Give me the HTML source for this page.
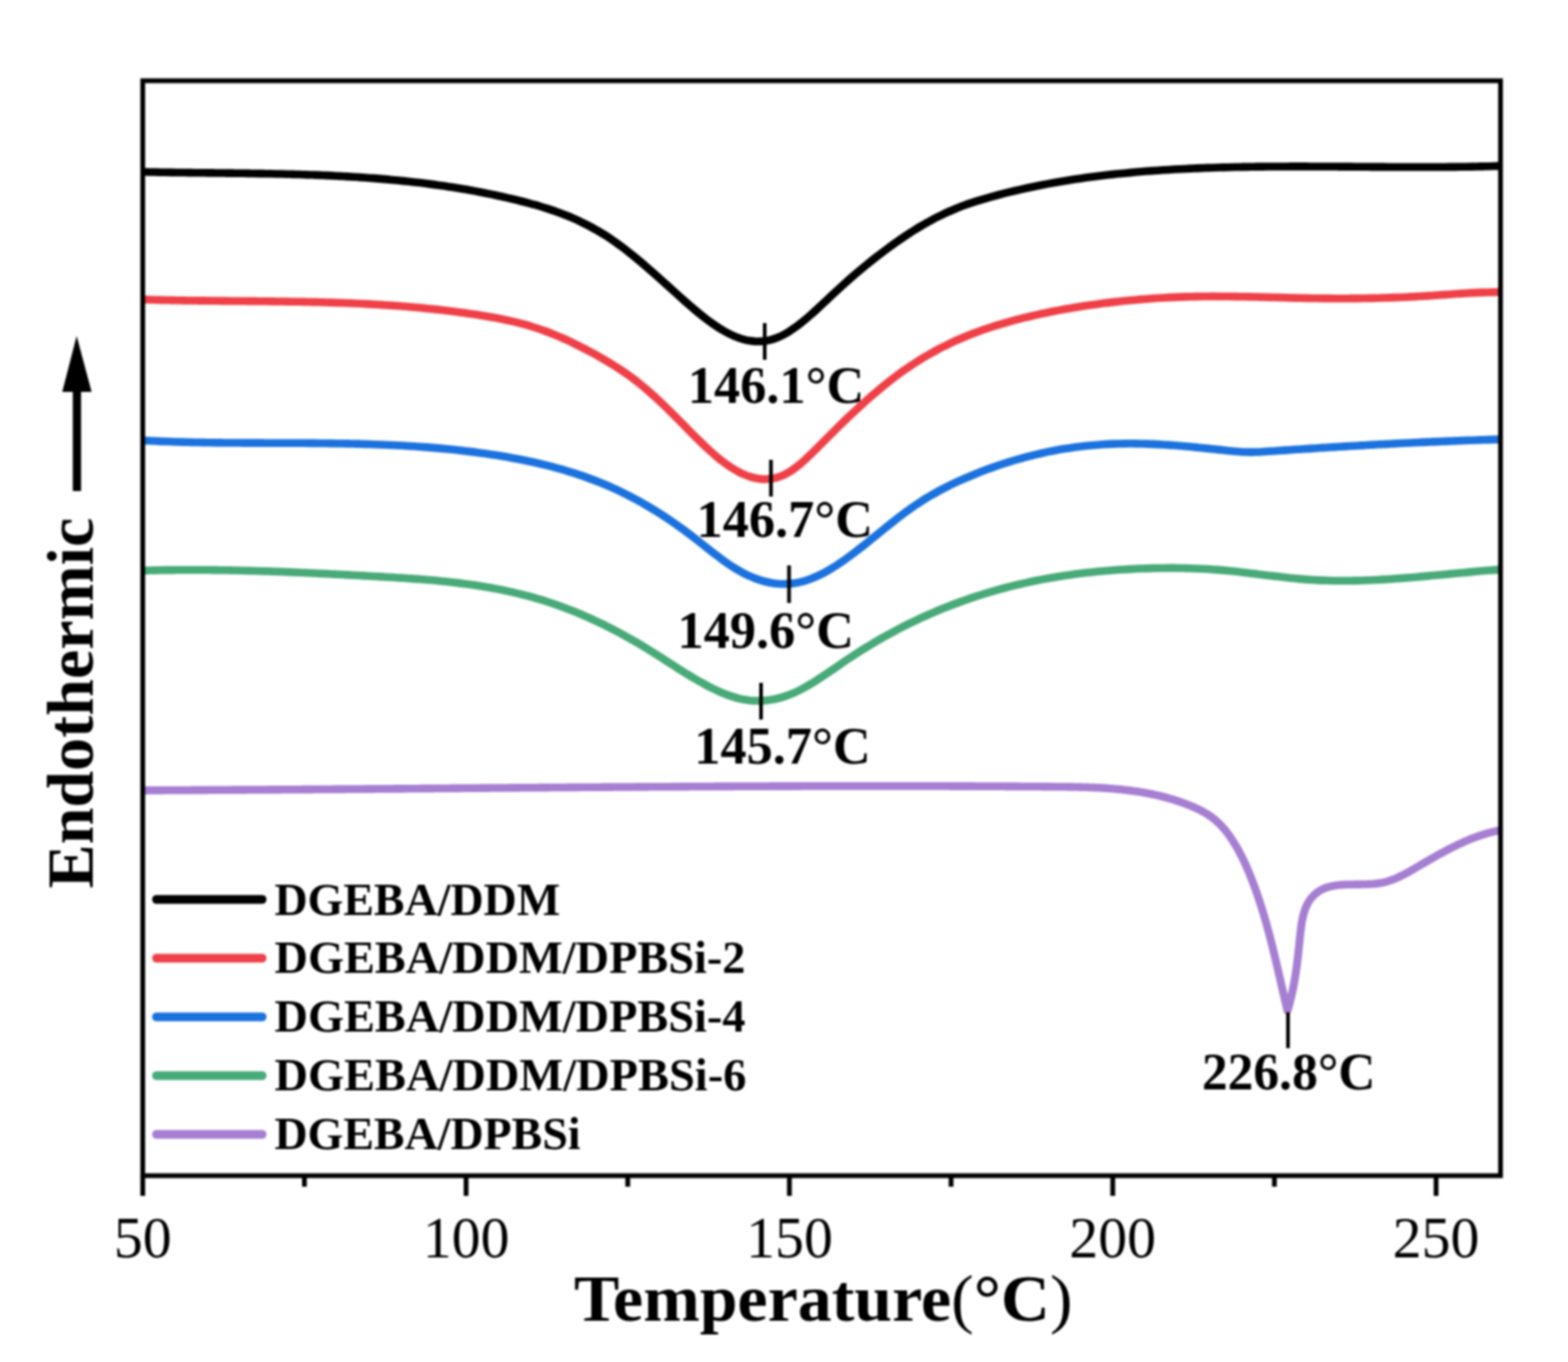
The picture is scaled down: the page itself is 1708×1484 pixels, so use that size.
<!DOCTYPE html>
<html><head><meta charset="utf-8"><title>DSC curves</title>
<style>html,body{margin:0;padding:0;background:#fff;}svg{display:block;filter:blur(1px);}</style>
</head><body>
<svg width="1708" height="1484" viewBox="0 0 1708 1484">
<rect width="1708" height="1484" fill="#fff"/>
<g fill="none" stroke-linecap="butt" stroke-linejoin="round" stroke-width="8.6">
<path d="M157.0,187.32 C159.0,187.37 161.0,187.41 163.0,187.45 C165.0,187.49 167.0,187.53 169.0,187.57 C171.0,187.61 173.0,187.64 175.0,187.68 C177.0,187.71 179.0,187.75 181.0,187.78 C183.0,187.81 185.0,187.84 187.0,187.87 C189.0,187.90 191.0,187.93 193.0,187.96 C195.0,187.98 197.0,188.01 199.0,188.04 C201.0,188.06 203.0,188.09 205.0,188.11 C207.0,188.14 209.0,188.16 211.0,188.19 C213.0,188.21 215.0,188.23 217.0,188.26 C219.0,188.28 221.0,188.30 223.0,188.32 C225.0,188.34 227.0,188.37 229.0,188.39 C231.0,188.41 233.0,188.43 235.0,188.45 C237.0,188.48 239.0,188.50 241.0,188.52 C243.0,188.54 245.0,188.57 247.0,188.59 C249.0,188.61 251.0,188.64 253.0,188.66 C255.0,188.69 257.0,188.71 259.0,188.74 C261.0,188.76 263.0,188.79 265.0,188.82 C267.0,188.84 269.0,188.87 271.0,188.90 C273.0,188.93 275.0,188.96 277.0,188.99 C279.0,189.02 281.0,189.05 283.0,189.09 C285.0,189.12 287.0,189.16 289.0,189.19 C291.0,189.23 293.0,189.27 295.0,189.31 C297.0,189.35 299.0,189.39 301.0,189.43 C303.0,189.48 305.0,189.52 307.0,189.57 C309.0,189.61 311.0,189.66 313.0,189.71 C315.0,189.76 317.0,189.82 319.0,189.87 C321.0,189.93 323.0,189.99 325.0,190.05 C327.0,190.11 329.0,190.17 331.0,190.23 C333.0,190.30 335.0,190.37 337.0,190.44 C339.0,190.51 341.0,190.58 343.0,190.65 C345.0,190.73 347.0,190.81 349.0,190.89 C351.0,190.97 353.0,191.06 355.0,191.14 C357.0,191.23 359.0,191.32 361.0,191.42 C363.0,191.51 365.0,191.61 367.0,191.71 C369.0,191.81 371.0,191.92 373.0,192.02 C375.0,192.13 377.0,192.24 379.0,192.36 C381.0,192.47 383.0,192.59 385.0,192.72 C387.0,192.84 389.0,192.97 391.0,193.10 C393.0,193.23 395.0,193.36 397.0,193.50 C399.0,193.64 401.0,193.79 403.0,193.93 C405.0,194.08 407.0,194.24 409.0,194.39 C411.0,194.55 413.0,194.71 415.0,194.88 C417.0,195.04 419.0,195.21 421.0,195.39 C423.0,195.56 425.0,195.74 427.0,195.93 C429.0,196.12 431.0,196.31 433.0,196.50 C435.0,196.70 437.0,196.90 439.0,197.10 C441.0,197.31 443.0,197.52 445.0,197.74 C447.0,197.95 449.0,198.18 451.0,198.40 C453.0,198.63 455.0,198.86 457.0,199.10 C459.0,199.34 461.0,199.59 463.0,199.84 C465.0,200.09 467.0,200.34 469.0,200.61 C471.0,200.87 473.0,201.14 475.0,201.41 C477.0,201.69 479.0,201.97 481.0,202.25 C483.0,202.54 485.0,202.84 487.0,203.14 C489.0,203.44 491.0,203.74 493.0,204.05 C495.0,204.37 497.0,204.69 499.0,205.01 C501.0,205.34 503.0,205.67 505.0,206.01 C507.0,206.36 509.0,206.70 511.0,207.06 C513.0,207.41 515.0,207.77 517.0,208.14 C519.0,208.51 521.0,208.89 523.0,209.27 C525.0,209.65 527.0,210.04 529.0,210.44 C531.0,210.84 533.0,211.25 535.0,211.66 C537.0,212.07 539.0,212.50 541.0,212.92 C543.0,213.35 545.0,213.79 547.0,214.24 C549.0,214.68 551.0,215.13 553.0,215.60 C555.0,216.06 557.0,216.53 559.0,217.00 C561.0,217.48 563.0,217.97 565.0,218.46 C567.0,218.96 569.0,219.46 571.0,219.98 C573.0,220.50 575.0,221.03 577.0,221.57 C579.0,222.11 581.0,222.66 583.0,223.24 C585.0,223.81 587.0,224.39 589.0,225.00 C591.0,225.60 593.0,226.22 595.0,226.86 C597.0,227.50 599.0,228.16 601.0,228.84 C603.0,229.52 605.0,230.22 607.0,230.95 C609.0,231.67 611.0,232.42 613.0,233.19 C615.0,233.97 617.0,234.76 619.0,235.59 C621.0,236.41 623.0,237.26 625.0,238.14 C627.0,239.02 629.0,239.93 631.0,240.87 C633.0,241.81 635.0,242.78 637.0,243.78 C639.0,244.78 641.0,245.81 643.0,246.88 C645.0,247.95 647.0,249.05 649.0,250.19 C651.0,251.33 653.0,252.50 655.0,253.72 C657.0,254.93 659.0,256.18 661.0,257.47 C663.0,258.76 665.0,260.09 667.0,261.47 C669.0,262.84 671.0,264.25 673.0,265.70 C675.0,267.15 677.0,268.64 679.0,270.15 C681.0,271.67 683.0,273.23 685.0,274.81 C687.0,276.39 689.0,278.00 691.0,279.63 C693.0,281.27 695.0,282.93 697.0,284.61 C699.0,286.29 701.0,287.99 703.0,289.72 C705.0,291.44 707.0,293.18 709.0,294.93 C711.0,296.68 713.0,298.45 715.0,300.23 C717.0,302.01 719.0,303.79 721.0,305.59 C723.0,307.38 725.0,309.19 727.0,310.99 C729.0,312.79 731.0,314.60 733.0,316.41 C735.0,318.21 737.0,320.02 739.0,321.82 C741.0,323.62 743.0,325.41 745.0,327.18 C747.0,328.96 749.0,330.72 751.0,332.46 C753.0,334.20 755.0,335.92 757.0,337.60 C759.0,339.29 761.0,340.94 763.0,342.56 C765.0,344.17 767.0,345.75 769.0,347.29 C771.0,348.82 773.0,350.30 775.0,351.74 C777.0,353.17 779.0,354.55 781.0,355.87 C783.0,357.18 785.0,358.44 787.0,359.63 C789.0,360.81 791.0,361.93 793.0,362.97 C795.0,364.01 797.0,364.97 799.0,365.85 C801.0,366.73 803.0,367.53 805.0,368.23 C807.0,368.93 809.0,369.54 811.0,370.05 C813.0,370.56 815.0,370.98 817.0,371.29 C819.0,371.60 821.0,371.81 823.0,371.92 C825.0,372.02 827.0,372.02 829.0,371.91 C831.0,371.79 833.0,371.57 835.0,371.23 C837.0,370.89 839.0,370.44 841.0,369.86 C843.0,369.29 845.0,368.59 847.0,367.78 C849.0,366.96 851.0,366.02 853.0,364.98 C855.0,363.94 857.0,362.80 859.0,361.56 C861.0,360.32 863.0,358.99 865.0,357.59 C867.0,356.18 869.0,354.69 871.0,353.14 C873.0,351.58 875.0,349.96 877.0,348.29 C879.0,346.62 881.0,344.90 883.0,343.13 C885.0,341.37 887.0,339.56 889.0,337.73 C891.0,335.90 893.0,334.05 895.0,332.18 C897.0,330.31 899.0,328.42 901.0,326.54 C903.0,324.66 905.0,322.77 907.0,320.90 C909.0,319.03 911.0,317.17 913.0,315.34 C915.0,313.50 917.0,311.69 919.0,309.89 C921.0,308.10 923.0,306.32 925.0,304.57 C927.0,302.81 929.0,301.08 931.0,299.36 C933.0,297.65 935.0,295.95 937.0,294.28 C939.0,292.60 941.0,290.95 943.0,289.31 C945.0,287.68 947.0,286.06 949.0,284.46 C951.0,282.87 953.0,281.29 955.0,279.74 C957.0,278.18 959.0,276.64 961.0,275.13 C963.0,273.61 965.0,272.11 967.0,270.64 C969.0,269.16 971.0,267.70 973.0,266.27 C975.0,264.83 977.0,263.42 979.0,262.03 C981.0,260.64 983.0,259.27 985.0,257.93 C987.0,256.58 989.0,255.26 991.0,253.97 C993.0,252.67 995.0,251.40 997.0,250.16 C999.0,248.91 1001.0,247.69 1003.0,246.50 C1005.0,245.31 1007.0,244.14 1009.0,243.01 C1011.0,241.87 1013.0,240.76 1015.0,239.68 C1017.0,238.60 1019.0,237.55 1021.0,236.53 C1023.0,235.51 1025.0,234.51 1027.0,233.56 C1029.0,232.60 1031.0,231.67 1033.0,230.77 C1035.0,229.88 1037.0,229.01 1039.0,228.18 C1041.0,227.34 1043.0,226.54 1045.0,225.76 C1047.0,224.98 1049.0,224.23 1051.0,223.51 C1053.0,222.78 1055.0,222.08 1057.0,221.40 C1059.0,220.72 1061.0,220.06 1063.0,219.42 C1065.0,218.78 1067.0,218.16 1069.0,217.55 C1071.0,216.95 1073.0,216.36 1075.0,215.79 C1077.0,215.22 1079.0,214.66 1081.0,214.11 C1083.0,213.56 1085.0,213.02 1087.0,212.49 C1089.0,211.97 1091.0,211.45 1093.0,210.94 C1095.0,210.43 1097.0,209.93 1099.0,209.43 C1101.0,208.94 1103.0,208.46 1105.0,207.99 C1107.0,207.51 1109.0,207.05 1111.0,206.59 C1113.0,206.13 1115.0,205.69 1117.0,205.25 C1119.0,204.81 1121.0,204.38 1123.0,203.95 C1125.0,203.53 1127.0,203.12 1129.0,202.71 C1131.0,202.30 1133.0,201.90 1135.0,201.51 C1137.0,201.12 1139.0,200.74 1141.0,200.37 C1143.0,199.99 1145.0,199.62 1147.0,199.26 C1149.0,198.90 1151.0,198.55 1153.0,198.21 C1155.0,197.86 1157.0,197.52 1159.0,197.19 C1161.0,196.86 1163.0,196.54 1165.0,196.22 C1167.0,195.91 1169.0,195.60 1171.0,195.30 C1173.0,195.00 1175.0,194.70 1177.0,194.41 C1179.0,194.12 1181.0,193.84 1183.0,193.56 C1185.0,193.29 1187.0,193.02 1189.0,192.76 C1191.0,192.49 1193.0,192.24 1195.0,191.99 C1197.0,191.74 1199.0,191.49 1201.0,191.25 C1203.0,191.02 1205.0,190.78 1207.0,190.56 C1209.0,190.33 1211.0,190.11 1213.0,189.89 C1215.0,189.68 1217.0,189.47 1219.0,189.26 C1221.0,189.06 1223.0,188.86 1225.0,188.67 C1227.0,188.47 1229.0,188.28 1231.0,188.10 C1233.0,187.92 1235.0,187.74 1237.0,187.57 C1239.0,187.39 1241.0,187.22 1243.0,187.06 C1245.0,186.90 1247.0,186.74 1249.0,186.58 C1251.0,186.43 1253.0,186.28 1255.0,186.13 C1257.0,185.99 1259.0,185.84 1261.0,185.71 C1263.0,185.57 1265.0,185.44 1267.0,185.31 C1269.0,185.18 1271.0,185.05 1273.0,184.93 C1275.0,184.81 1277.0,184.69 1279.0,184.58 C1281.0,184.47 1283.0,184.36 1285.0,184.25 C1287.0,184.14 1289.0,184.04 1291.0,183.94 C1293.0,183.84 1295.0,183.75 1297.0,183.66 C1299.0,183.57 1301.0,183.48 1303.0,183.39 C1305.0,183.31 1307.0,183.23 1309.0,183.15 C1311.0,183.07 1313.0,183.00 1315.0,182.92 C1317.0,182.85 1319.0,182.78 1321.0,182.72 C1323.0,182.65 1325.0,182.59 1327.0,182.53 C1329.0,182.47 1331.0,182.41 1333.0,182.36 C1335.0,182.30 1337.0,182.25 1339.0,182.21 C1341.0,182.16 1343.0,182.11 1345.0,182.07 C1347.0,182.02 1349.0,181.98 1351.0,181.94 C1353.0,181.91 1355.0,181.87 1357.0,181.84 C1359.0,181.80 1361.0,181.77 1363.0,181.74 C1365.0,181.71 1367.0,181.69 1369.0,181.66 C1371.0,181.64 1373.0,181.61 1375.0,181.59 C1377.0,181.57 1379.0,181.55 1381.0,181.54 C1383.0,181.52 1385.0,181.51 1387.0,181.49 C1389.0,181.48 1391.0,181.47 1393.0,181.46 C1395.0,181.45 1397.0,181.44 1399.0,181.43 C1401.0,181.43 1403.0,181.42 1405.0,181.42 C1407.0,181.42 1409.0,181.41 1411.0,181.41 C1413.0,181.41 1415.0,181.41 1417.0,181.41 C1419.0,181.41 1421.0,181.42 1423.0,181.42 C1425.0,181.42 1427.0,181.43 1429.0,181.44 C1431.0,181.44 1433.0,181.45 1435.0,181.46 C1437.0,181.46 1439.0,181.47 1441.0,181.48 C1443.0,181.49 1445.0,181.50 1447.0,181.51 C1449.0,181.52 1451.0,181.53 1453.0,181.55 C1455.0,181.56 1457.0,181.57 1459.0,181.58 C1461.0,181.59 1463.0,181.61 1465.0,181.62 C1467.0,181.63 1469.0,181.65 1471.0,181.66 C1473.0,181.68 1475.0,181.69 1477.0,181.70 C1479.0,181.72 1481.0,181.73 1483.0,181.75 C1485.0,181.76 1487.0,181.77 1489.0,181.79 C1491.0,181.80 1493.0,181.81 1495.0,181.83 C1497.0,181.84 1499.0,181.85 1501.0,181.87 C1503.0,181.88 1505.0,181.89 1507.0,181.90 C1509.0,181.91 1511.0,181.92 1513.0,181.94 C1515.0,181.95 1517.0,181.96 1519.0,181.96 C1521.0,181.97 1523.0,181.98 1525.0,181.99 C1527.0,182.00 1529.0,182.00 1531.0,182.01 C1533.0,182.01 1535.0,182.02 1537.0,182.02 C1539.0,182.03 1541.0,182.03 1543.0,182.03 C1545.0,182.03 1547.0,182.03 1549.0,182.03 C1551.0,182.03 1553.0,182.03 1555.0,182.02 C1557.0,182.02 1559.0,182.01 1561.0,182.01 C1563.0,182.00 1565.0,181.99 1567.0,181.98 C1569.0,181.97 1571.0,181.96 1573.0,181.94 C1575.0,181.93 1577.0,181.92 1579.0,181.90 C1581.0,181.88 1583.0,181.86 1585.0,181.84 C1587.0,181.82 1589.0,181.80 1591.0,181.77 C1593.0,181.75 1595.0,181.72 1597.0,181.69 C1599.0,181.66 1601.0,181.63 1603.0,181.59 C1605.0,181.56 1607.0,181.52 1609.0,181.48 C1611.0,181.44 1613.0,181.40 1615.0,181.36 C1617.0,181.31 1619.0,181.27 1621.0,181.22 C1623.0,181.17 1625.0,181.12 1627.0,181.06 C1629.0,181.01 1631.0,180.95 1633.0,180.89" stroke="#000"/>
<path d="M157.0,326.37 C159.0,326.43 161.0,326.49 163.0,326.55 C165.0,326.61 167.0,326.66 169.0,326.71 C171.0,326.77 173.0,326.82 175.0,326.86 C177.0,326.91 179.0,326.96 181.0,327.00 C183.0,327.04 185.0,327.08 187.0,327.12 C189.0,327.16 191.0,327.20 193.0,327.24 C195.0,327.27 197.0,327.31 199.0,327.34 C201.0,327.37 203.0,327.40 205.0,327.43 C207.0,327.46 209.0,327.49 211.0,327.52 C213.0,327.55 215.0,327.57 217.0,327.60 C219.0,327.62 221.0,327.65 223.0,327.67 C225.0,327.69 227.0,327.71 229.0,327.73 C231.0,327.76 233.0,327.78 235.0,327.80 C237.0,327.82 239.0,327.83 241.0,327.85 C243.0,327.87 245.0,327.89 247.0,327.91 C249.0,327.93 251.0,327.94 253.0,327.96 C255.0,327.98 257.0,328.00 259.0,328.01 C261.0,328.03 263.0,328.05 265.0,328.07 C267.0,328.08 269.0,328.10 271.0,328.12 C273.0,328.14 275.0,328.16 277.0,328.17 C279.0,328.19 281.0,328.21 283.0,328.23 C285.0,328.25 287.0,328.27 289.0,328.29 C291.0,328.32 293.0,328.34 295.0,328.36 C297.0,328.38 299.0,328.41 301.0,328.43 C303.0,328.46 305.0,328.48 307.0,328.51 C309.0,328.54 311.0,328.57 313.0,328.60 C315.0,328.63 317.0,328.66 319.0,328.69 C321.0,328.72 323.0,328.76 325.0,328.79 C327.0,328.83 329.0,328.87 331.0,328.91 C333.0,328.95 335.0,328.99 337.0,329.03 C339.0,329.08 341.0,329.12 343.0,329.17 C345.0,329.22 347.0,329.27 349.0,329.32 C351.0,329.37 353.0,329.43 355.0,329.48 C357.0,329.54 359.0,329.60 361.0,329.66 C363.0,329.72 365.0,329.79 367.0,329.86 C369.0,329.92 371.0,329.99 373.0,330.07 C375.0,330.14 377.0,330.22 379.0,330.30 C381.0,330.38 383.0,330.46 385.0,330.54 C387.0,330.63 389.0,330.72 391.0,330.81 C393.0,330.90 395.0,331.00 397.0,331.10 C399.0,331.20 401.0,331.30 403.0,331.41 C405.0,331.51 407.0,331.62 409.0,331.74 C411.0,331.85 413.0,331.97 415.0,332.09 C417.0,332.21 419.0,332.34 421.0,332.47 C423.0,332.60 425.0,332.73 427.0,332.87 C429.0,333.01 431.0,333.15 433.0,333.30 C435.0,333.45 437.0,333.60 439.0,333.76 C441.0,333.91 443.0,334.08 445.0,334.24 C447.0,334.41 449.0,334.58 451.0,334.75 C453.0,334.93 455.0,335.11 457.0,335.30 C459.0,335.48 461.0,335.67 463.0,335.87 C465.0,336.07 467.0,336.27 469.0,336.47 C471.0,336.68 473.0,336.89 475.0,337.11 C477.0,337.33 479.0,337.55 481.0,337.78 C483.0,338.01 485.0,338.25 487.0,338.49 C489.0,338.73 491.0,338.97 493.0,339.23 C495.0,339.48 497.0,339.74 499.0,340.00 C501.0,340.27 503.0,340.54 505.0,340.81 C507.0,341.09 509.0,341.38 511.0,341.67 C513.0,341.96 515.0,342.25 517.0,342.56 C519.0,342.86 521.0,343.17 523.0,343.49 C525.0,343.80 527.0,344.13 529.0,344.46 C531.0,344.79 533.0,345.14 535.0,345.49 C537.0,345.85 539.0,346.21 541.0,346.59 C543.0,346.97 545.0,347.36 547.0,347.76 C549.0,348.17 551.0,348.58 553.0,349.02 C555.0,349.46 557.0,349.91 559.0,350.38 C561.0,350.85 563.0,351.33 565.0,351.84 C567.0,352.35 569.0,352.87 571.0,353.42 C573.0,353.97 575.0,354.54 577.0,355.13 C579.0,355.72 581.0,356.34 583.0,356.98 C585.0,357.62 587.0,358.28 589.0,358.97 C591.0,359.66 593.0,360.38 595.0,361.13 C597.0,361.87 599.0,362.64 601.0,363.43 C603.0,364.23 605.0,365.05 607.0,365.89 C609.0,366.73 611.0,367.60 613.0,368.49 C615.0,369.37 617.0,370.28 619.0,371.21 C621.0,372.14 623.0,373.10 625.0,374.07 C627.0,375.04 629.0,376.03 631.0,377.04 C633.0,378.05 635.0,379.08 637.0,380.12 C639.0,381.17 641.0,382.23 643.0,383.31 C645.0,384.39 647.0,385.48 649.0,386.59 C651.0,387.70 653.0,388.83 655.0,389.97 C657.0,391.11 659.0,392.27 661.0,393.45 C663.0,394.63 665.0,395.84 667.0,397.07 C669.0,398.30 671.0,399.56 673.0,400.85 C675.0,402.15 677.0,403.47 679.0,404.84 C681.0,406.20 683.0,407.60 685.0,409.04 C687.0,410.48 689.0,411.97 691.0,413.50 C693.0,415.03 695.0,416.61 697.0,418.23 C699.0,419.85 701.0,421.52 703.0,423.22 C705.0,424.93 707.0,426.67 709.0,428.45 C711.0,430.23 713.0,432.04 715.0,433.88 C717.0,435.73 719.0,437.60 721.0,439.51 C723.0,441.41 725.0,443.34 727.0,445.29 C729.0,447.24 731.0,449.22 733.0,451.21 C735.0,453.21 737.0,455.22 739.0,457.25 C741.0,459.28 743.0,461.31 745.0,463.35 C747.0,465.39 749.0,467.42 751.0,469.45 C753.0,471.48 755.0,473.50 757.0,475.50 C759.0,477.49 761.0,479.47 763.0,481.42 C765.0,483.36 767.0,485.28 769.0,487.16 C771.0,489.03 773.0,490.86 775.0,492.65 C777.0,494.43 779.0,496.16 781.0,497.83 C783.0,499.50 785.0,501.11 787.0,502.64 C789.0,504.18 791.0,505.64 793.0,507.02 C795.0,508.40 797.0,509.71 799.0,510.92 C801.0,512.14 803.0,513.27 805.0,514.31 C807.0,515.35 809.0,516.29 811.0,517.14 C813.0,517.98 815.0,518.73 817.0,519.37 C819.0,520.01 821.0,520.54 823.0,520.96 C825.0,521.38 827.0,521.68 829.0,521.87 C831.0,522.05 833.0,522.12 835.0,522.05 C837.0,521.99 839.0,521.80 841.0,521.48 C843.0,521.16 845.0,520.70 847.0,520.11 C849.0,519.51 851.0,518.77 853.0,517.89 C855.0,517.01 857.0,515.97 859.0,514.79 C861.0,513.61 863.0,512.28 865.0,510.82 C867.0,509.37 869.0,507.80 871.0,506.14 C873.0,504.47 875.0,502.71 877.0,500.88 C879.0,499.05 881.0,497.15 883.0,495.21 C885.0,493.27 887.0,491.28 889.0,489.28 C891.0,487.28 893.0,485.26 895.0,483.24 C897.0,481.23 899.0,479.22 901.0,477.21 C903.0,475.20 905.0,473.20 907.0,471.20 C909.0,469.21 911.0,467.23 913.0,465.27 C915.0,463.30 917.0,461.35 919.0,459.42 C921.0,457.48 923.0,455.57 925.0,453.67 C927.0,451.77 929.0,449.88 931.0,448.02 C933.0,446.16 935.0,444.31 937.0,442.49 C939.0,440.66 941.0,438.86 943.0,437.07 C945.0,435.29 947.0,433.53 949.0,431.79 C951.0,430.06 953.0,428.34 955.0,426.65 C957.0,424.97 959.0,423.30 961.0,421.66 C963.0,420.02 965.0,418.41 967.0,416.83 C969.0,415.24 971.0,413.69 973.0,412.16 C975.0,410.63 977.0,409.13 979.0,407.66 C981.0,406.19 983.0,404.76 985.0,403.35 C987.0,401.94 989.0,400.57 991.0,399.22 C993.0,397.87 995.0,396.55 997.0,395.26 C999.0,393.97 1001.0,392.71 1003.0,391.48 C1005.0,390.25 1007.0,389.05 1009.0,387.87 C1011.0,386.70 1013.0,385.55 1015.0,384.43 C1017.0,383.30 1019.0,382.21 1021.0,381.14 C1023.0,380.07 1025.0,379.03 1027.0,378.01 C1029.0,376.99 1031.0,376.00 1033.0,375.04 C1035.0,374.07 1037.0,373.13 1039.0,372.21 C1041.0,371.29 1043.0,370.39 1045.0,369.52 C1047.0,368.65 1049.0,367.80 1051.0,366.97 C1053.0,366.14 1055.0,365.33 1057.0,364.54 C1059.0,363.76 1061.0,362.99 1063.0,362.24 C1065.0,361.49 1067.0,360.77 1069.0,360.05 C1071.0,359.34 1073.0,358.65 1075.0,357.97 C1077.0,357.30 1079.0,356.64 1081.0,356.00 C1083.0,355.35 1085.0,354.73 1087.0,354.11 C1089.0,353.50 1091.0,352.90 1093.0,352.32 C1095.0,351.73 1097.0,351.16 1099.0,350.60 C1101.0,350.04 1103.0,349.50 1105.0,348.96 C1107.0,348.43 1109.0,347.90 1111.0,347.39 C1113.0,346.88 1115.0,346.38 1117.0,345.89 C1119.0,345.39 1121.0,344.91 1123.0,344.45 C1125.0,343.98 1127.0,343.52 1129.0,343.07 C1131.0,342.62 1133.0,342.18 1135.0,341.75 C1137.0,341.32 1139.0,340.90 1141.0,340.49 C1143.0,340.08 1145.0,339.68 1147.0,339.29 C1149.0,338.90 1151.0,338.52 1153.0,338.14 C1155.0,337.77 1157.0,337.40 1159.0,337.04 C1161.0,336.69 1163.0,336.34 1165.0,335.99 C1167.0,335.65 1169.0,335.32 1171.0,334.99 C1173.0,334.67 1175.0,334.35 1177.0,334.03 C1179.0,333.72 1181.0,333.42 1183.0,333.12 C1185.0,332.82 1187.0,332.53 1189.0,332.24 C1191.0,331.96 1193.0,331.68 1195.0,331.41 C1197.0,331.14 1199.0,330.87 1201.0,330.61 C1203.0,330.35 1205.0,330.10 1207.0,329.86 C1209.0,329.61 1211.0,329.37 1213.0,329.14 C1215.0,328.91 1217.0,328.68 1219.0,328.47 C1221.0,328.25 1223.0,328.03 1225.0,327.83 C1227.0,327.62 1229.0,327.42 1231.0,327.23 C1233.0,327.04 1235.0,326.85 1237.0,326.67 C1239.0,326.49 1241.0,326.32 1243.0,326.15 C1245.0,325.99 1247.0,325.83 1249.0,325.67 C1251.0,325.52 1253.0,325.37 1255.0,325.23 C1257.0,325.09 1259.0,324.96 1261.0,324.83 C1263.0,324.70 1265.0,324.58 1267.0,324.47 C1269.0,324.35 1271.0,324.25 1273.0,324.15 C1275.0,324.04 1277.0,323.95 1279.0,323.86 C1281.0,323.77 1283.0,323.69 1285.0,323.61 C1287.0,323.54 1289.0,323.47 1291.0,323.41 C1293.0,323.34 1295.0,323.29 1297.0,323.24 C1299.0,323.19 1301.0,323.14 1303.0,323.11 C1305.0,323.07 1307.0,323.04 1309.0,323.01 C1311.0,322.99 1313.0,322.97 1315.0,322.95 C1317.0,322.94 1319.0,322.93 1321.0,322.92 C1323.0,322.92 1325.0,322.92 1327.0,322.93 C1329.0,322.93 1331.0,322.94 1333.0,322.96 C1335.0,322.97 1337.0,322.99 1339.0,323.01 C1341.0,323.03 1343.0,323.05 1345.0,323.08 C1347.0,323.11 1349.0,323.14 1351.0,323.18 C1353.0,323.21 1355.0,323.25 1357.0,323.29 C1359.0,323.32 1361.0,323.37 1363.0,323.41 C1365.0,323.45 1367.0,323.50 1369.0,323.54 C1371.0,323.59 1373.0,323.64 1375.0,323.69 C1377.0,323.74 1379.0,323.79 1381.0,323.84 C1383.0,323.89 1385.0,323.94 1387.0,323.99 C1389.0,324.04 1391.0,324.09 1393.0,324.14 C1395.0,324.19 1397.0,324.24 1399.0,324.29 C1401.0,324.34 1403.0,324.39 1405.0,324.44 C1407.0,324.49 1409.0,324.54 1411.0,324.58 C1413.0,324.63 1415.0,324.67 1417.0,324.71 C1419.0,324.75 1421.0,324.79 1423.0,324.83 C1425.0,324.87 1427.0,324.90 1429.0,324.93 C1431.0,324.97 1433.0,325.00 1435.0,325.02 C1437.0,325.05 1439.0,325.07 1441.0,325.09 C1443.0,325.11 1445.0,325.13 1447.0,325.15 C1449.0,325.16 1451.0,325.17 1453.0,325.18 C1455.0,325.19 1457.0,325.19 1459.0,325.20 C1461.0,325.20 1463.0,325.20 1465.0,325.19 C1467.0,325.19 1469.0,325.18 1471.0,325.17 C1473.0,325.16 1475.0,325.14 1477.0,325.12 C1479.0,325.10 1481.0,325.08 1483.0,325.06 C1485.0,325.03 1487.0,325.00 1489.0,324.97 C1491.0,324.93 1493.0,324.90 1495.0,324.86 C1497.0,324.82 1499.0,324.77 1501.0,324.72 C1503.0,324.67 1505.0,324.62 1507.0,324.56 C1509.0,324.51 1511.0,324.45 1513.0,324.38 C1515.0,324.32 1517.0,324.25 1519.0,324.17 C1521.0,324.10 1523.0,324.02 1525.0,323.94 C1527.0,323.86 1529.0,323.77 1531.0,323.68 C1533.0,323.59 1535.0,323.50 1537.0,323.40 C1539.0,323.30 1541.0,323.19 1543.0,323.08 C1545.0,322.97 1547.0,322.86 1549.0,322.74 C1551.0,322.62 1553.0,322.50 1555.0,322.37 C1557.0,322.24 1559.0,322.11 1561.0,321.97 C1563.0,321.83 1565.0,321.69 1567.0,321.55 C1569.0,321.41 1571.0,321.27 1573.0,321.12 C1575.0,320.98 1577.0,320.84 1579.0,320.69 C1581.0,320.55 1583.0,320.41 1585.0,320.27 C1587.0,320.13 1589.0,320.00 1591.0,319.87 C1593.0,319.74 1595.0,319.61 1597.0,319.49 C1599.0,319.37 1601.0,319.26 1603.0,319.15 C1605.0,319.04 1607.0,318.94 1609.0,318.85 C1611.0,318.76 1613.0,318.68 1615.0,318.61 C1617.0,318.54 1619.0,318.48 1621.0,318.43 C1623.0,318.39 1625.0,318.35 1627.0,318.33 C1629.0,318.31 1631.0,318.30 1633.0,318.31" stroke="#ef4048"/>
<path d="M157.0,479.99 C159.0,480.09 161.0,480.20 163.0,480.29 C165.0,480.39 167.0,480.49 169.0,480.58 C171.0,480.67 173.0,480.75 175.0,480.83 C177.0,480.92 179.0,481.00 181.0,481.07 C183.0,481.15 185.0,481.22 187.0,481.28 C189.0,481.35 191.0,481.42 193.0,481.48 C195.0,481.54 197.0,481.60 199.0,481.65 C201.0,481.71 203.0,481.76 205.0,481.81 C207.0,481.85 209.0,481.90 211.0,481.94 C213.0,481.99 215.0,482.03 217.0,482.07 C219.0,482.10 221.0,482.14 223.0,482.17 C225.0,482.20 227.0,482.24 229.0,482.26 C231.0,482.29 233.0,482.32 235.0,482.34 C237.0,482.37 239.0,482.39 241.0,482.41 C243.0,482.43 245.0,482.45 247.0,482.47 C249.0,482.49 251.0,482.50 253.0,482.52 C255.0,482.53 257.0,482.55 259.0,482.56 C261.0,482.57 263.0,482.58 265.0,482.59 C267.0,482.60 269.0,482.61 271.0,482.62 C273.0,482.63 275.0,482.64 277.0,482.64 C279.0,482.65 281.0,482.66 283.0,482.66 C285.0,482.67 287.0,482.67 289.0,482.68 C291.0,482.68 293.0,482.69 295.0,482.69 C297.0,482.70 299.0,482.70 301.0,482.71 C303.0,482.71 305.0,482.72 307.0,482.72 C309.0,482.73 311.0,482.74 313.0,482.74 C315.0,482.75 317.0,482.76 319.0,482.76 C321.0,482.77 323.0,482.78 325.0,482.79 C327.0,482.80 329.0,482.81 331.0,482.82 C333.0,482.83 335.0,482.84 337.0,482.86 C339.0,482.87 341.0,482.88 343.0,482.90 C345.0,482.92 347.0,482.93 349.0,482.95 C351.0,482.97 353.0,482.99 355.0,483.02 C357.0,483.04 359.0,483.06 361.0,483.09 C363.0,483.12 365.0,483.15 367.0,483.18 C369.0,483.21 371.0,483.24 373.0,483.28 C375.0,483.31 377.0,483.35 379.0,483.39 C381.0,483.43 383.0,483.48 385.0,483.52 C387.0,483.57 389.0,483.62 391.0,483.67 C393.0,483.72 395.0,483.78 397.0,483.83 C399.0,483.89 401.0,483.95 403.0,484.02 C405.0,484.08 407.0,484.15 409.0,484.22 C411.0,484.29 413.0,484.37 415.0,484.45 C417.0,484.53 419.0,484.61 421.0,484.70 C423.0,484.78 425.0,484.87 427.0,484.97 C429.0,485.06 431.0,485.16 433.0,485.26 C435.0,485.36 437.0,485.47 439.0,485.58 C441.0,485.70 443.0,485.81 445.0,485.93 C447.0,486.05 449.0,486.18 451.0,486.31 C453.0,486.44 455.0,486.57 457.0,486.71 C459.0,486.85 461.0,487.00 463.0,487.15 C465.0,487.30 467.0,487.46 469.0,487.62 C471.0,487.78 473.0,487.95 475.0,488.12 C477.0,488.29 479.0,488.47 481.0,488.65 C483.0,488.84 485.0,489.03 487.0,489.22 C489.0,489.42 491.0,489.62 493.0,489.83 C495.0,490.03 497.0,490.25 499.0,490.47 C501.0,490.69 503.0,490.92 505.0,491.15 C507.0,491.38 509.0,491.62 511.0,491.87 C513.0,492.12 515.0,492.37 517.0,492.63 C519.0,492.89 521.0,493.16 523.0,493.43 C525.0,493.71 527.0,493.99 529.0,494.28 C531.0,494.56 533.0,494.86 535.0,495.16 C537.0,495.47 539.0,495.78 541.0,496.10 C543.0,496.42 545.0,496.74 547.0,497.08 C549.0,497.41 551.0,497.76 553.0,498.11 C555.0,498.46 557.0,498.82 559.0,499.18 C561.0,499.55 563.0,499.93 565.0,500.31 C567.0,500.70 569.0,501.09 571.0,501.50 C573.0,501.90 575.0,502.32 577.0,502.75 C579.0,503.17 581.0,503.61 583.0,504.06 C585.0,504.51 587.0,504.97 589.0,505.44 C591.0,505.91 593.0,506.40 595.0,506.89 C597.0,507.39 599.0,507.90 601.0,508.42 C603.0,508.95 605.0,509.48 607.0,510.03 C609.0,510.59 611.0,511.15 613.0,511.73 C615.0,512.31 617.0,512.90 619.0,513.51 C621.0,514.12 623.0,514.75 625.0,515.39 C627.0,516.03 629.0,516.69 631.0,517.36 C633.0,518.03 635.0,518.72 637.0,519.43 C639.0,520.14 641.0,520.86 643.0,521.61 C645.0,522.35 647.0,523.11 649.0,523.89 C651.0,524.67 653.0,525.47 655.0,526.29 C657.0,527.10 659.0,527.94 661.0,528.80 C663.0,529.65 665.0,530.53 667.0,531.43 C669.0,532.33 671.0,533.24 673.0,534.18 C675.0,535.12 677.0,536.08 679.0,537.06 C681.0,538.05 683.0,539.05 685.0,540.08 C687.0,541.10 689.0,542.15 691.0,543.22 C693.0,544.30 695.0,545.39 697.0,546.51 C699.0,547.62 701.0,548.76 703.0,549.92 C705.0,551.08 707.0,552.26 709.0,553.47 C711.0,554.67 713.0,555.90 715.0,557.15 C717.0,558.40 719.0,559.67 721.0,560.97 C723.0,562.26 725.0,563.58 727.0,564.92 C729.0,566.26 731.0,567.62 733.0,569.00 C735.0,570.39 737.0,571.79 739.0,573.22 C741.0,574.65 743.0,576.10 745.0,577.57 C747.0,579.05 749.0,580.54 751.0,582.06 C753.0,583.58 755.0,585.12 757.0,586.68 C759.0,588.23 761.0,589.81 763.0,591.38 C765.0,592.96 767.0,594.54 769.0,596.12 C771.0,597.70 773.0,599.27 775.0,600.83 C777.0,602.39 779.0,603.93 781.0,605.44 C783.0,606.96 785.0,608.45 787.0,609.91 C789.0,611.37 791.0,612.79 793.0,614.17 C795.0,615.54 797.0,616.87 799.0,618.15 C801.0,619.43 803.0,620.65 805.0,621.80 C807.0,622.96 809.0,624.05 811.0,625.07 C813.0,626.09 815.0,627.05 817.0,627.93 C819.0,628.82 821.0,629.64 823.0,630.39 C825.0,631.14 827.0,631.81 829.0,632.42 C831.0,633.03 833.0,633.57 835.0,634.03 C837.0,634.50 839.0,634.89 841.0,635.21 C843.0,635.53 845.0,635.78 847.0,635.95 C849.0,636.13 851.0,636.22 853.0,636.25 C855.0,636.27 857.0,636.21 859.0,636.08 C861.0,635.95 863.0,635.75 865.0,635.46 C867.0,635.17 869.0,634.81 871.0,634.37 C873.0,633.92 875.0,633.40 877.0,632.80 C879.0,632.19 881.0,631.51 883.0,630.76 C885.0,630.01 887.0,629.18 889.0,628.29 C891.0,627.40 893.0,626.44 895.0,625.42 C897.0,624.40 899.0,623.32 901.0,622.19 C903.0,621.06 905.0,619.87 907.0,618.64 C909.0,617.40 911.0,616.12 913.0,614.79 C915.0,613.47 917.0,612.10 919.0,610.70 C921.0,609.30 923.0,607.86 925.0,606.39 C927.0,604.92 929.0,603.42 931.0,601.90 C933.0,600.38 935.0,598.83 937.0,597.27 C939.0,595.70 941.0,594.12 943.0,592.52 C945.0,590.93 947.0,589.32 949.0,587.70 C951.0,586.09 953.0,584.47 955.0,582.84 C957.0,581.22 959.0,579.59 961.0,577.97 C963.0,576.35 965.0,574.74 967.0,573.13 C969.0,571.52 971.0,569.93 973.0,568.35 C975.0,566.77 977.0,565.20 979.0,563.66 C981.0,562.12 983.0,560.59 985.0,559.10 C987.0,557.60 989.0,556.14 991.0,554.70 C993.0,553.27 995.0,551.86 997.0,550.50 C999.0,549.14 1001.0,547.81 1003.0,546.52 C1005.0,545.24 1007.0,543.98 1009.0,542.77 C1011.0,541.55 1013.0,540.37 1015.0,539.21 C1017.0,538.06 1019.0,536.94 1021.0,535.85 C1023.0,534.76 1025.0,533.69 1027.0,532.65 C1029.0,531.62 1031.0,530.61 1033.0,529.62 C1035.0,528.63 1037.0,527.66 1039.0,526.72 C1041.0,525.78 1043.0,524.85 1045.0,523.95 C1047.0,523.04 1049.0,522.15 1051.0,521.28 C1053.0,520.41 1055.0,519.55 1057.0,518.71 C1059.0,517.87 1061.0,517.05 1063.0,516.24 C1065.0,515.43 1067.0,514.64 1069.0,513.86 C1071.0,513.08 1073.0,512.32 1075.0,511.57 C1077.0,510.82 1079.0,510.09 1081.0,509.38 C1083.0,508.66 1085.0,507.96 1087.0,507.27 C1089.0,506.59 1091.0,505.92 1093.0,505.26 C1095.0,504.61 1097.0,503.97 1099.0,503.34 C1101.0,502.72 1103.0,502.11 1105.0,501.51 C1107.0,500.92 1109.0,500.34 1111.0,499.77 C1113.0,499.21 1115.0,498.66 1117.0,498.13 C1119.0,497.59 1121.0,497.07 1123.0,496.57 C1125.0,496.06 1127.0,495.57 1129.0,495.10 C1131.0,494.62 1133.0,494.16 1135.0,493.72 C1137.0,493.27 1139.0,492.84 1141.0,492.42 C1143.0,492.01 1145.0,491.61 1147.0,491.22 C1149.0,490.83 1151.0,490.46 1153.0,490.10 C1155.0,489.74 1157.0,489.40 1159.0,489.07 C1161.0,488.74 1163.0,488.43 1165.0,488.13 C1167.0,487.83 1169.0,487.54 1171.0,487.27 C1173.0,487.00 1175.0,486.74 1177.0,486.49 C1179.0,486.25 1181.0,486.02 1183.0,485.81 C1185.0,485.59 1187.0,485.39 1189.0,485.20 C1191.0,485.02 1193.0,484.84 1195.0,484.69 C1197.0,484.53 1199.0,484.38 1201.0,484.25 C1203.0,484.12 1205.0,484.00 1207.0,483.90 C1209.0,483.80 1211.0,483.71 1213.0,483.63 C1215.0,483.56 1217.0,483.49 1219.0,483.45 C1221.0,483.40 1223.0,483.36 1225.0,483.34 C1227.0,483.32 1229.0,483.31 1231.0,483.31 C1233.0,483.31 1235.0,483.32 1237.0,483.35 C1239.0,483.38 1241.0,483.41 1243.0,483.46 C1245.0,483.51 1247.0,483.56 1249.0,483.63 C1251.0,483.70 1253.0,483.78 1255.0,483.86 C1257.0,483.95 1259.0,484.05 1261.0,484.15 C1263.0,484.26 1265.0,484.37 1267.0,484.49 C1269.0,484.61 1271.0,484.74 1273.0,484.88 C1275.0,485.02 1277.0,485.16 1279.0,485.31 C1281.0,485.46 1283.0,485.62 1285.0,485.79 C1287.0,485.95 1289.0,486.12 1291.0,486.29 C1293.0,486.47 1295.0,486.65 1297.0,486.84 C1299.0,487.02 1301.0,487.21 1303.0,487.40 C1305.0,487.60 1307.0,487.80 1309.0,488.00 C1311.0,488.20 1313.0,488.40 1315.0,488.61 C1317.0,488.82 1319.0,489.03 1321.0,489.24 C1323.0,489.45 1325.0,489.67 1327.0,489.88 C1329.0,490.10 1331.0,490.32 1333.0,490.53 C1335.0,490.75 1337.0,490.97 1339.0,491.18 C1341.0,491.38 1343.0,491.58 1345.0,491.76 C1347.0,491.94 1349.0,492.10 1351.0,492.22 C1353.0,492.35 1355.0,492.46 1357.0,492.52 C1359.0,492.58 1361.0,492.60 1363.0,492.59 C1365.0,492.58 1367.0,492.53 1369.0,492.46 C1371.0,492.39 1373.0,492.30 1375.0,492.19 C1377.0,492.08 1379.0,491.95 1381.0,491.82 C1383.0,491.69 1385.0,491.56 1387.0,491.42 C1389.0,491.29 1391.0,491.15 1393.0,491.02 C1395.0,490.88 1397.0,490.75 1399.0,490.62 C1401.0,490.48 1403.0,490.35 1405.0,490.22 C1407.0,490.08 1409.0,489.95 1411.0,489.82 C1413.0,489.69 1415.0,489.56 1417.0,489.43 C1419.0,489.29 1421.0,489.16 1423.0,489.03 C1425.0,488.90 1427.0,488.78 1429.0,488.65 C1431.0,488.52 1433.0,488.39 1435.0,488.26 C1437.0,488.13 1439.0,488.01 1441.0,487.88 C1443.0,487.76 1445.0,487.63 1447.0,487.51 C1449.0,487.38 1451.0,487.26 1453.0,487.13 C1455.0,487.01 1457.0,486.89 1459.0,486.77 C1461.0,486.64 1463.0,486.52 1465.0,486.40 C1467.0,486.28 1469.0,486.16 1471.0,486.04 C1473.0,485.93 1475.0,485.81 1477.0,485.69 C1479.0,485.57 1481.0,485.46 1483.0,485.34 C1485.0,485.23 1487.0,485.11 1489.0,485.00 C1491.0,484.89 1493.0,484.77 1495.0,484.66 C1497.0,484.55 1499.0,484.44 1501.0,484.33 C1503.0,484.22 1505.0,484.11 1507.0,484.00 C1509.0,483.89 1511.0,483.79 1513.0,483.68 C1515.0,483.58 1517.0,483.47 1519.0,483.37 C1521.0,483.26 1523.0,483.16 1525.0,483.06 C1527.0,482.96 1529.0,482.86 1531.0,482.76 C1533.0,482.66 1535.0,482.56 1537.0,482.46 C1539.0,482.36 1541.0,482.27 1543.0,482.17 C1545.0,482.08 1547.0,481.98 1549.0,481.89 C1551.0,481.80 1553.0,481.71 1555.0,481.61 C1557.0,481.52 1559.0,481.44 1561.0,481.35 C1563.0,481.26 1565.0,481.17 1567.0,481.09 C1569.0,481.00 1571.0,480.92 1573.0,480.83 C1575.0,480.75 1577.0,480.67 1579.0,480.59 C1581.0,480.51 1583.0,480.43 1585.0,480.35 C1587.0,480.27 1589.0,480.20 1591.0,480.12 C1593.0,480.05 1595.0,479.97 1597.0,479.90 C1599.0,479.83 1601.0,479.76 1603.0,479.69 C1605.0,479.62 1607.0,479.55 1609.0,479.48 C1611.0,479.42 1613.0,479.35 1615.0,479.29 C1617.0,479.22 1619.0,479.16 1621.0,479.10 C1623.0,479.04 1625.0,478.98 1627.0,478.92 C1629.0,478.87 1631.0,478.81 1633.0,478.76" stroke="#1b72de"/>
<path d="M157.0,621.68 C159.0,621.63 161.0,621.57 163.0,621.52 C165.0,621.47 167.0,621.43 169.0,621.39 C171.0,621.34 173.0,621.30 175.0,621.27 C177.0,621.23 179.0,621.20 181.0,621.17 C183.0,621.14 185.0,621.12 187.0,621.09 C189.0,621.07 191.0,621.05 193.0,621.04 C195.0,621.02 197.0,621.01 199.0,621.00 C201.0,620.99 203.0,620.98 205.0,620.98 C207.0,620.97 209.0,620.97 211.0,620.98 C213.0,620.98 215.0,620.98 217.0,620.99 C219.0,621.00 221.0,621.01 223.0,621.02 C225.0,621.04 227.0,621.05 229.0,621.07 C231.0,621.09 233.0,621.12 235.0,621.14 C237.0,621.16 239.0,621.19 241.0,621.22 C243.0,621.25 245.0,621.28 247.0,621.32 C249.0,621.35 251.0,621.39 253.0,621.43 C255.0,621.47 257.0,621.51 259.0,621.56 C261.0,621.60 263.0,621.65 265.0,621.70 C267.0,621.75 269.0,621.80 271.0,621.85 C273.0,621.90 275.0,621.96 277.0,622.02 C279.0,622.07 281.0,622.13 283.0,622.20 C285.0,622.26 287.0,622.32 289.0,622.39 C291.0,622.45 293.0,622.52 295.0,622.59 C297.0,622.66 299.0,622.73 301.0,622.80 C303.0,622.88 305.0,622.95 307.0,623.03 C309.0,623.11 311.0,623.18 313.0,623.26 C315.0,623.34 317.0,623.43 319.0,623.51 C321.0,623.59 323.0,623.68 325.0,623.76 C327.0,623.85 329.0,623.94 331.0,624.02 C333.0,624.11 335.0,624.20 337.0,624.30 C339.0,624.39 341.0,624.48 343.0,624.57 C345.0,624.67 347.0,624.76 349.0,624.86 C351.0,624.96 353.0,625.05 355.0,625.15 C357.0,625.25 359.0,625.35 361.0,625.45 C363.0,625.55 365.0,625.66 367.0,625.76 C369.0,625.86 371.0,625.96 373.0,626.07 C375.0,626.17 377.0,626.28 379.0,626.39 C381.0,626.49 383.0,626.60 385.0,626.71 C387.0,626.81 389.0,626.92 391.0,627.03 C393.0,627.14 395.0,627.25 397.0,627.36 C399.0,627.47 401.0,627.58 403.0,627.69 C405.0,627.80 407.0,627.91 409.0,628.02 C411.0,628.14 413.0,628.25 415.0,628.36 C417.0,628.48 419.0,628.59 421.0,628.71 C423.0,628.82 425.0,628.94 427.0,629.06 C429.0,629.18 431.0,629.30 433.0,629.42 C435.0,629.55 437.0,629.67 439.0,629.80 C441.0,629.93 443.0,630.07 445.0,630.20 C447.0,630.34 449.0,630.48 451.0,630.62 C453.0,630.77 455.0,630.92 457.0,631.07 C459.0,631.22 461.0,631.38 463.0,631.54 C465.0,631.71 467.0,631.87 469.0,632.05 C471.0,632.22 473.0,632.40 475.0,632.59 C477.0,632.77 479.0,632.96 481.0,633.16 C483.0,633.36 485.0,633.56 487.0,633.78 C489.0,633.99 491.0,634.21 493.0,634.44 C495.0,634.66 497.0,634.90 499.0,635.14 C501.0,635.38 503.0,635.64 505.0,635.90 C507.0,636.16 509.0,636.42 511.0,636.70 C513.0,636.98 515.0,637.27 517.0,637.57 C519.0,637.86 521.0,638.17 523.0,638.49 C525.0,638.81 527.0,639.13 529.0,639.47 C531.0,639.81 533.0,640.16 535.0,640.52 C537.0,640.88 539.0,641.25 541.0,641.64 C543.0,642.02 545.0,642.42 547.0,642.82 C549.0,643.23 551.0,643.65 553.0,644.09 C555.0,644.52 557.0,644.97 559.0,645.42 C561.0,645.88 563.0,646.36 565.0,646.84 C567.0,647.33 569.0,647.83 571.0,648.35 C573.0,648.86 575.0,649.39 577.0,649.94 C579.0,650.48 581.0,651.04 583.0,651.62 C585.0,652.19 587.0,652.78 589.0,653.39 C591.0,653.99 593.0,654.62 595.0,655.26 C597.0,655.90 599.0,656.55 601.0,657.22 C603.0,657.90 605.0,658.59 607.0,659.29 C609.0,660.00 611.0,660.72 613.0,661.46 C615.0,662.20 617.0,662.96 619.0,663.73 C621.0,664.50 623.0,665.29 625.0,666.10 C627.0,666.90 629.0,667.73 631.0,668.57 C633.0,669.41 635.0,670.26 637.0,671.13 C639.0,672.00 641.0,672.89 643.0,673.80 C645.0,674.70 647.0,675.62 649.0,676.56 C651.0,677.49 653.0,678.45 655.0,679.42 C657.0,680.38 659.0,681.37 661.0,682.37 C663.0,683.37 665.0,684.39 667.0,685.42 C669.0,686.45 671.0,687.50 673.0,688.56 C675.0,689.63 677.0,690.71 679.0,691.80 C681.0,692.90 683.0,694.01 685.0,695.14 C687.0,696.26 689.0,697.40 691.0,698.56 C693.0,699.72 695.0,700.89 697.0,702.08 C699.0,703.27 701.0,704.47 703.0,705.69 C705.0,706.91 707.0,708.14 709.0,709.39 C711.0,710.64 713.0,711.90 715.0,713.17 C717.0,714.43 719.0,715.71 721.0,716.99 C723.0,718.27 725.0,719.56 727.0,720.84 C729.0,722.13 731.0,723.42 733.0,724.70 C735.0,725.98 737.0,727.26 739.0,728.52 C741.0,729.79 743.0,731.05 745.0,732.30 C747.0,733.55 749.0,734.79 751.0,736.00 C753.0,737.22 755.0,738.43 757.0,739.61 C759.0,740.79 761.0,741.95 763.0,743.08 C765.0,744.22 767.0,745.32 769.0,746.40 C771.0,747.47 773.0,748.52 775.0,749.52 C777.0,750.53 779.0,751.50 781.0,752.42 C783.0,753.34 785.0,754.23 787.0,755.06 C789.0,755.89 791.0,756.67 793.0,757.40 C795.0,758.13 797.0,758.80 799.0,759.42 C801.0,760.03 803.0,760.58 805.0,761.07 C807.0,761.55 809.0,761.98 811.0,762.33 C813.0,762.67 815.0,762.95 817.0,763.16 C819.0,763.37 821.0,763.51 823.0,763.57 C825.0,763.64 827.0,763.64 829.0,763.57 C831.0,763.49 833.0,763.35 835.0,763.14 C837.0,762.93 839.0,762.65 841.0,762.30 C843.0,761.95 845.0,761.53 847.0,761.05 C849.0,760.56 851.0,760.01 853.0,759.38 C855.0,758.76 857.0,758.07 859.0,757.31 C861.0,756.56 863.0,755.73 865.0,754.84 C867.0,753.95 869.0,752.99 871.0,751.98 C873.0,750.97 875.0,749.90 877.0,748.79 C879.0,747.67 881.0,746.51 883.0,745.31 C885.0,744.11 887.0,742.87 889.0,741.60 C891.0,740.33 893.0,739.03 895.0,737.71 C897.0,736.38 899.0,735.04 901.0,733.68 C903.0,732.32 905.0,730.95 907.0,729.58 C909.0,728.20 911.0,726.82 913.0,725.44 C915.0,724.06 917.0,722.69 919.0,721.32 C921.0,719.96 923.0,718.61 925.0,717.28 C927.0,715.94 929.0,714.63 931.0,713.33 C933.0,712.03 935.0,710.75 937.0,709.48 C939.0,708.22 941.0,706.97 943.0,705.74 C945.0,704.50 947.0,703.29 949.0,702.09 C951.0,700.89 953.0,699.71 955.0,698.54 C957.0,697.37 959.0,696.22 961.0,695.08 C963.0,693.95 965.0,692.83 967.0,691.72 C969.0,690.62 971.0,689.53 973.0,688.45 C975.0,687.38 977.0,686.32 979.0,685.28 C981.0,684.24 983.0,683.21 985.0,682.20 C987.0,681.18 989.0,680.19 991.0,679.20 C993.0,678.22 995.0,677.25 997.0,676.30 C999.0,675.35 1001.0,674.41 1003.0,673.48 C1005.0,672.56 1007.0,671.65 1009.0,670.75 C1011.0,669.86 1013.0,668.98 1015.0,668.11 C1017.0,667.24 1019.0,666.39 1021.0,665.55 C1023.0,664.71 1025.0,663.89 1027.0,663.07 C1029.0,662.26 1031.0,661.46 1033.0,660.68 C1035.0,659.89 1037.0,659.12 1039.0,658.37 C1041.0,657.61 1043.0,656.86 1045.0,656.13 C1047.0,655.40 1049.0,654.68 1051.0,653.98 C1053.0,653.27 1055.0,652.58 1057.0,651.90 C1059.0,651.22 1061.0,650.55 1063.0,649.90 C1065.0,649.24 1067.0,648.60 1069.0,647.97 C1071.0,647.34 1073.0,646.72 1075.0,646.12 C1077.0,645.51 1079.0,644.92 1081.0,644.34 C1083.0,643.76 1085.0,643.19 1087.0,642.63 C1089.0,642.07 1091.0,641.53 1093.0,640.99 C1095.0,640.46 1097.0,639.93 1099.0,639.42 C1101.0,638.91 1103.0,638.41 1105.0,637.92 C1107.0,637.43 1109.0,636.96 1111.0,636.49 C1113.0,636.02 1115.0,635.57 1117.0,635.12 C1119.0,634.68 1121.0,634.24 1123.0,633.82 C1125.0,633.39 1127.0,632.98 1129.0,632.58 C1131.0,632.18 1133.0,631.78 1135.0,631.40 C1137.0,631.02 1139.0,630.65 1141.0,630.29 C1143.0,629.92 1145.0,629.57 1147.0,629.23 C1149.0,628.89 1151.0,628.55 1153.0,628.23 C1155.0,627.91 1157.0,627.60 1159.0,627.29 C1161.0,626.99 1163.0,626.69 1165.0,626.41 C1167.0,626.12 1169.0,625.85 1171.0,625.58 C1173.0,625.32 1175.0,625.06 1177.0,624.81 C1179.0,624.56 1181.0,624.32 1183.0,624.09 C1185.0,623.86 1187.0,623.64 1189.0,623.42 C1191.0,623.21 1193.0,623.00 1195.0,622.80 C1197.0,622.61 1199.0,622.42 1201.0,622.24 C1203.0,622.05 1205.0,621.88 1207.0,621.72 C1209.0,621.55 1211.0,621.39 1213.0,621.24 C1215.0,621.09 1217.0,620.95 1219.0,620.82 C1221.0,620.68 1223.0,620.56 1225.0,620.44 C1227.0,620.32 1229.0,620.21 1231.0,620.10 C1233.0,620.00 1235.0,619.90 1237.0,619.81 C1239.0,619.71 1241.0,619.63 1243.0,619.55 C1245.0,619.48 1247.0,619.40 1249.0,619.34 C1251.0,619.28 1253.0,619.22 1255.0,619.17 C1257.0,619.12 1259.0,619.07 1261.0,619.04 C1263.0,619.00 1265.0,618.97 1267.0,618.95 C1269.0,618.93 1271.0,618.92 1273.0,618.91 C1275.0,618.91 1277.0,618.91 1279.0,618.92 C1281.0,618.93 1283.0,618.95 1285.0,618.97 C1287.0,619.00 1289.0,619.04 1291.0,619.08 C1293.0,619.12 1295.0,619.18 1297.0,619.24 C1299.0,619.30 1301.0,619.37 1303.0,619.45 C1305.0,619.53 1307.0,619.62 1309.0,619.72 C1311.0,619.82 1313.0,619.92 1315.0,620.04 C1317.0,620.16 1319.0,620.29 1321.0,620.43 C1323.0,620.56 1325.0,620.71 1327.0,620.87 C1329.0,621.03 1331.0,621.20 1333.0,621.38 C1335.0,621.56 1337.0,621.75 1339.0,621.95 C1341.0,622.15 1343.0,622.35 1345.0,622.57 C1347.0,622.78 1349.0,623.00 1351.0,623.23 C1353.0,623.46 1355.0,623.69 1357.0,623.93 C1359.0,624.17 1361.0,624.41 1363.0,624.66 C1365.0,624.90 1367.0,625.15 1369.0,625.40 C1371.0,625.65 1373.0,625.90 1375.0,626.15 C1377.0,626.40 1379.0,626.65 1381.0,626.90 C1383.0,627.15 1385.0,627.39 1387.0,627.64 C1389.0,627.88 1391.0,628.12 1393.0,628.35 C1395.0,628.59 1397.0,628.82 1399.0,629.05 C1401.0,629.27 1403.0,629.49 1405.0,629.70 C1407.0,629.91 1409.0,630.11 1411.0,630.31 C1413.0,630.50 1415.0,630.69 1417.0,630.86 C1419.0,631.04 1421.0,631.20 1423.0,631.35 C1425.0,631.50 1427.0,631.64 1429.0,631.77 C1431.0,631.89 1433.0,632.01 1435.0,632.11 C1437.0,632.21 1439.0,632.30 1441.0,632.37 C1443.0,632.45 1445.0,632.52 1447.0,632.57 C1449.0,632.63 1451.0,632.67 1453.0,632.70 C1455.0,632.73 1457.0,632.75 1459.0,632.76 C1461.0,632.78 1463.0,632.78 1465.0,632.77 C1467.0,632.76 1469.0,632.74 1471.0,632.71 C1473.0,632.69 1475.0,632.65 1477.0,632.60 C1479.0,632.56 1481.0,632.51 1483.0,632.44 C1485.0,632.38 1487.0,632.31 1489.0,632.23 C1491.0,632.16 1493.0,632.07 1495.0,631.98 C1497.0,631.89 1499.0,631.79 1501.0,631.68 C1503.0,631.57 1505.0,631.46 1507.0,631.34 C1509.0,631.22 1511.0,631.10 1513.0,630.97 C1515.0,630.84 1517.0,630.70 1519.0,630.56 C1521.0,630.42 1523.0,630.28 1525.0,630.13 C1527.0,629.98 1529.0,629.82 1531.0,629.66 C1533.0,629.50 1535.0,629.34 1537.0,629.17 C1539.0,629.01 1541.0,628.84 1543.0,628.66 C1545.0,628.49 1547.0,628.32 1549.0,628.14 C1551.0,627.96 1553.0,627.78 1555.0,627.60 C1557.0,627.41 1559.0,627.23 1561.0,627.04 C1563.0,626.86 1565.0,626.67 1567.0,626.48 C1569.0,626.29 1571.0,626.11 1573.0,625.92 C1575.0,625.73 1577.0,625.54 1579.0,625.35 C1581.0,625.16 1583.0,624.97 1585.0,624.78 C1587.0,624.59 1589.0,624.40 1591.0,624.22 C1593.0,624.03 1595.0,623.84 1597.0,623.66 C1599.0,623.48 1601.0,623.29 1603.0,623.11 C1605.0,622.93 1607.0,622.75 1609.0,622.58 C1611.0,622.40 1613.0,622.23 1615.0,622.06 C1617.0,621.89 1619.0,621.73 1621.0,621.56 C1623.0,621.40 1625.0,621.24 1627.0,621.09 C1629.0,620.94 1631.0,620.79 1633.0,620.64" stroke="#48aa78"/>
<path d="M156.91,861.16 L158.92,861.15 L160.92,861.14 L162.93,861.14 L164.94,861.13 L166.94,861.12 L168.95,861.11 L170.96,861.10 L172.97,861.09 L174.97,861.08 L176.98,861.08 L178.99,861.07 L180.99,861.06 L183.00,861.05 L185.00,861.04 L187.01,861.03 L189.02,861.02 L191.02,861.01 L193.03,861.00 L195.04,860.99 L197.04,860.98 L199.05,860.97 L201.05,860.96 L203.06,860.95 L205.06,860.94 L207.07,860.93 L209.08,860.92 L211.08,860.91 L213.09,860.90 L215.09,860.89 L217.10,860.88 L219.10,860.87 L221.11,860.85 L223.11,860.84 L225.12,860.83 L227.12,860.82 L229.13,860.81 L231.13,860.80 L233.14,860.79 L235.14,860.78 L237.14,860.76 L239.15,860.75 L241.15,860.74 L243.16,860.73 L245.16,860.72 L247.17,860.71 L249.17,860.69 L251.17,860.68 L253.18,860.67 L255.18,860.66 L257.19,860.65 L259.19,860.63 L261.19,860.62 L263.20,860.61 L265.20,860.60 L267.20,860.58 L269.21,860.57 L271.21,860.56 L273.21,860.55 L275.22,860.53 L277.22,860.52 L279.22,860.51 L281.23,860.49 L283.23,860.48 L285.23,860.47 L287.23,860.46 L289.24,860.44 L291.24,860.43 L293.24,860.42 L295.25,860.40 L297.25,860.39 L299.25,860.38 L301.25,860.36 L303.25,860.35 L305.26,860.34 L307.26,860.32 L309.26,860.31 L311.26,860.29 L313.27,860.28 L315.27,860.27 L317.27,860.25 L319.27,860.24 L321.27,860.22 L323.28,860.21 L325.28,860.20 L327.28,860.18 L329.28,860.17 L331.28,860.15 L333.28,860.14 L335.29,860.13 L337.29,860.11 L339.29,860.10 L341.29,860.08 L343.29,860.07 L345.29,860.05 L347.29,860.04 L349.29,860.02 L351.30,860.01 L353.30,859.99 L355.30,859.98 L357.30,859.96 L359.30,859.95 L361.30,859.94 L363.30,859.92 L365.30,859.91 L367.30,859.89 L369.30,859.88 L371.30,859.86 L373.30,859.85 L375.30,859.83 L377.30,859.82 L379.31,859.80 L381.31,859.78 L383.31,859.77 L385.31,859.75 L387.31,859.74 L389.31,859.72 L391.31,859.71 L393.31,859.69 L395.31,859.68 L397.31,859.66 L399.31,859.65 L401.31,859.63 L403.31,859.62 L405.31,859.60 L407.31,859.58 L409.31,859.57 L411.31,859.55 L413.31,859.54 L415.31,859.52 L417.31,859.51 L419.30,859.49 L421.30,859.48 L423.30,859.46 L425.30,859.44 L427.30,859.43 L429.30,859.41 L431.30,859.40 L433.30,859.38 L435.30,859.37 L437.30,859.35 L439.30,859.33 L441.30,859.32 L443.30,859.30 L445.30,859.29 L447.30,859.27 L449.29,859.25 L451.29,859.24 L453.29,859.22 L455.29,859.21 L457.29,859.19 L459.29,859.17 L461.29,859.16 L463.29,859.14 L465.29,859.13 L467.29,859.11 L469.28,859.09 L471.28,859.08 L473.28,859.06 L475.28,859.05 L477.28,859.03 L479.28,859.01 L481.28,859.00 L483.28,858.98 L485.27,858.97 L487.27,858.95 L489.27,858.94 L491.27,858.92 L493.27,858.90 L495.27,858.89 L497.26,858.87 L499.26,858.86 L501.26,858.84 L503.26,858.82 L505.26,858.81 L507.26,858.79 L509.26,858.78 L511.25,858.76 L513.25,858.74 L515.25,858.73 L517.25,858.71 L519.25,858.70 L521.24,858.68 L523.24,858.66 L525.24,858.65 L527.24,858.63 L529.24,858.62 L531.24,858.60 L533.23,858.58 L535.23,858.57 L537.23,858.55 L539.23,858.54 L541.23,858.52 L543.22,858.51 L545.22,858.49 L547.22,858.47 L549.22,858.46 L551.22,858.44 L553.21,858.43 L555.21,858.41 L557.21,858.40 L559.21,858.38 L561.21,858.36 L563.20,858.35 L565.20,858.33 L567.20,858.32 L569.20,858.30 L571.20,858.29 L573.19,858.27 L575.19,858.26 L577.19,858.24 L579.19,858.23 L581.18,858.21 L583.18,858.19 L585.18,858.18 L587.18,858.16 L589.18,858.15 L591.17,858.13 L593.17,858.12 L595.17,858.10 L597.17,858.09 L599.16,858.07 L601.16,858.06 L603.16,858.04 L605.16,858.03 L607.16,858.01 L609.15,858.00 L611.15,857.98 L613.15,857.97 L615.15,857.95 L617.14,857.94 L619.14,857.92 L621.14,857.91 L623.14,857.90 L625.14,857.88 L627.13,857.87 L629.13,857.85 L631.13,857.84 L633.13,857.82 L635.12,857.81 L637.12,857.79 L639.12,857.78 L641.12,857.77 L643.11,857.75 L645.11,857.74 L647.11,857.72 L649.11,857.71 L651.11,857.70 L653.10,857.68 L655.10,857.67 L657.10,857.65 L659.10,857.64 L661.09,857.63 L663.09,857.61 L665.09,857.60 L667.09,857.58 L669.09,857.57 L671.08,857.56 L673.08,857.54 L675.08,857.53 L677.08,857.52 L679.08,857.50 L681.07,857.49 L683.07,857.48 L685.07,857.46 L687.07,857.45 L689.07,857.44 L691.06,857.43 L693.06,857.41 L695.06,857.40 L697.06,857.39 L699.06,857.37 L701.05,857.36 L703.05,857.35 L705.05,857.34 L707.05,857.32 L709.05,857.31 L711.04,857.30 L713.04,857.29 L715.04,857.27 L717.04,857.26 L719.04,857.25 L721.03,857.24 L723.03,857.23 L725.03,857.22 L727.03,857.20 L729.03,857.19 L731.03,857.18 L733.02,857.17 L735.02,857.16 L737.02,857.15 L739.02,857.13 L741.02,857.12 L743.02,857.11 L745.01,857.10 L747.01,857.09 L749.01,857.08 L751.01,857.07 L753.01,857.06 L755.01,857.05 L757.01,857.04 L759.00,857.02 L761.00,857.01 L763.00,857.00 L765.00,856.99 L767.00,856.98 L769.00,856.97 L771.00,856.96 L772.99,856.95 L774.99,856.94 L776.99,856.93 L778.99,856.92 L780.99,856.91 L782.99,856.90 L784.99,856.89 L786.99,856.88 L788.99,856.88 L790.98,856.87 L792.98,856.86 L794.98,856.85 L796.98,856.84 L798.98,856.83 L800.98,856.82 L802.98,856.81 L804.98,856.80 L806.98,856.80 L808.98,856.79 L810.98,856.78 L812.98,856.77 L814.98,856.76 L816.98,856.75 L818.97,856.75 L820.97,856.74 L822.97,856.73 L824.97,856.72 L826.97,856.72 L828.97,856.71 L830.97,856.70 L832.97,856.69 L834.97,856.69 L836.97,856.68 L838.97,856.67 L840.97,856.67 L842.97,856.66 L844.97,856.65 L846.97,856.65 L848.97,856.64 L850.97,856.63 L852.97,856.63 L854.97,856.62 L856.97,856.61 L858.97,856.61 L860.97,856.60 L862.97,856.60 L864.97,856.59 L866.97,856.59 L868.97,856.58 L870.98,856.58 L872.98,856.57 L874.98,856.57 L876.98,856.56 L878.98,856.56 L880.98,856.55 L882.98,856.55 L884.98,856.54 L886.98,856.54 L888.98,856.53 L890.98,856.53 L892.98,856.53 L894.99,856.52 L896.99,856.52 L898.99,856.51 L900.99,856.51 L902.99,856.51 L904.99,856.50 L906.99,856.50 L908.99,856.50 L911.00,856.49 L913.00,856.49 L915.00,856.49 L917.00,856.49 L919.00,856.48 L921.00,856.48 L923.01,856.48 L925.01,856.48 L927.01,856.48 L929.01,856.47 L931.01,856.47 L933.02,856.47 L935.02,856.47 L937.02,856.47 L939.02,856.47 L941.03,856.47 L943.03,856.47 L945.03,856.46 L947.03,856.46 L949.04,856.46 L951.04,856.46 L953.04,856.46 L955.04,856.46 L957.05,856.46 L959.05,856.46 L961.05,856.46 L963.05,856.46 L965.06,856.46 L967.06,856.47 L969.06,856.47 L971.07,856.47 L973.07,856.47 L975.07,856.47 L977.08,856.47 L979.08,856.47 L981.08,856.48 L983.09,856.48 L985.09,856.48 L987.10,856.48 L989.10,856.48 L991.10,856.49 L993.11,856.49 L995.11,856.49 L997.12,856.49 L999.12,856.50 L1001.12,856.50 L1003.13,856.50 L1005.13,856.51 L1007.14,856.51 L1009.14,856.52 L1011.15,856.52 L1013.15,856.52 L1015.16,856.53 L1017.16,856.53 L1019.17,856.54 L1021.17,856.54 L1023.17,856.55 L1025.18,856.55 L1027.19,856.56 L1029.19,856.56 L1031.20,856.57 L1033.20,856.57 L1035.21,856.58 L1037.21,856.59 L1039.22,856.59 L1041.22,856.60 L1043.23,856.60 L1045.23,856.61 L1047.24,856.62 L1049.25,856.62 L1051.25,856.63 L1053.26,856.64 L1055.27,856.65 L1057.27,856.65 L1059.28,856.66 L1061.28,856.67 L1063.29,856.68 L1065.30,856.69 L1067.30,856.70 L1069.31,856.70 L1071.32,856.71 L1073.32,856.72 L1075.33,856.73 L1077.34,856.74 L1079.35,856.75 L1081.35,856.76 L1083.36,856.77 L1085.37,856.78 L1087.38,856.79 L1089.38,856.80 L1091.39,856.81 L1093.40,856.82 L1095.41,856.83 L1097.41,856.84 L1099.42,856.85 L1101.43,856.87 L1103.44,856.88 L1105.45,856.89 L1107.46,856.90 L1109.46,856.91 L1111.47,856.93 L1113.48,856.94 L1115.49,856.95 L1117.50,856.96 L1119.51,856.98 L1121.52,856.99 L1123.53,857.00 L1125.53,857.02 L1127.54,857.03 L1129.55,857.04 L1131.56,857.06 L1133.57,857.07 L1135.58,857.09 L1137.59,857.10 L1139.60,857.12 L1141.61,857.13 L1143.62,857.15 L1145.63,857.16 L1147.64,857.18 L1149.65,857.20 L1151.66,857.21 L1153.67,857.23 L1155.68,857.25 L1157.69,857.27 L1159.70,857.30 L1161.71,857.32 L1163.72,857.35 L1165.73,857.38 L1167.74,857.41 L1169.74,857.45 L1171.75,857.49 L1173.76,857.53 L1175.76,857.58 L1177.77,857.63 L1179.77,857.68 L1181.78,857.74 L1183.78,857.80 L1185.78,857.87 L1187.78,857.95 L1189.78,858.03 L1191.78,858.11 L1193.78,858.20 L1195.77,858.30 L1197.77,858.41 L1199.76,858.52 L1201.76,858.63 L1203.75,858.76 L1205.74,858.89 L1207.73,859.03 L1209.72,859.18 L1211.70,859.33 L1213.69,859.50 L1215.67,859.67 L1217.65,859.85 L1219.63,860.04 L1221.61,860.24 L1223.58,860.45 L1225.56,860.67 L1227.53,860.90 L1229.50,861.14 L1231.47,861.39 L1233.43,861.66 L1235.40,861.93 L1237.36,862.21 L1239.32,862.51 L1241.27,862.81 L1243.23,863.13 L1245.18,863.46 L1247.13,863.81 L1249.08,864.16 L1251.02,864.53 L1252.97,864.92 L1254.91,865.31 L1256.84,865.72 L1258.78,866.15 L1260.71,866.59 L1262.64,867.04 L1264.57,867.51 L1266.49,867.99 L1268.41,868.49 L1270.33,869.00 L1272.24,869.53 L1274.15,870.07 L1276.06,870.63 L1277.96,871.21 L1279.87,871.80 L1281.76,872.42 L1283.66,873.04 L1285.55,873.69 L1287.44,874.35 L1289.32,875.03 L1291.20,875.73 L1293.08,876.45 L1294.95,877.18 L1296.82,877.94 L1298.68,878.72 L1300.53,879.52 L1302.36,880.35 L1304.18,881.20 L1305.99,882.08 L1307.78,882.98 L1309.55,883.92 L1311.30,884.89 L1313.02,885.89 L1314.72,886.92 L1316.39,887.99 L1318.04,889.10 L1319.65,890.24 L1321.23,891.42 L1322.78,892.65 L1324.29,893.91 L1325.77,895.21 L1327.21,896.56 L1328.61,897.93 L1329.99,899.35 L1331.33,900.80 L1332.65,902.28 L1333.93,903.78 L1335.19,905.32 L1336.42,906.88 L1337.62,908.47 L1338.80,910.08 L1339.95,911.71 L1341.09,913.37 L1342.20,915.03 L1343.29,916.72 L1344.35,918.42 L1345.40,920.13 L1346.43,921.86 L1347.44,923.61 L1348.43,925.36 L1349.41,927.13 L1350.36,928.91 L1351.30,930.70 L1352.22,932.50 L1353.13,934.32 L1354.02,936.14 L1354.89,937.97 L1355.75,939.80 L1356.60,941.65 L1357.43,943.50 L1358.25,945.36 L1359.05,947.22 L1359.84,949.09 L1360.62,950.96 L1361.39,952.84 L1362.15,954.71 L1362.90,956.59 L1363.64,958.48 L1364.36,960.36 L1365.08,962.24 L1365.79,964.13 L1366.49,966.01 L1367.18,967.90 L1367.86,969.79 L1368.53,971.68 L1369.19,973.57 L1369.84,975.47 L1370.49,977.36 L1371.13,979.26 L1371.76,981.15 L1372.38,983.05 L1372.99,984.95 L1373.60,986.85 L1374.20,988.75 L1374.79,990.65 L1375.38,992.56 L1375.96,994.46 L1376.53,996.37 L1377.10,998.28 L1377.65,1000.19 L1378.21,1002.10 L1378.76,1004.01 L1379.30,1005.92 L1379.83,1007.83 L1380.36,1009.75 L1380.89,1011.67 L1381.41,1013.58 L1381.93,1015.50 L1382.44,1017.42 L1382.94,1019.34 L1383.45,1021.27 L1383.94,1023.19 L1384.44,1025.12 L1384.93,1027.04 L1385.41,1028.97 L1385.90,1030.90 L1386.38,1032.83 L1386.85,1034.76 L1387.33,1036.69 L1387.80,1038.63 L1388.26,1040.56 L1388.73,1042.50 L1389.19,1044.43 L1389.65,1046.37 L1390.11,1048.31 L1390.57,1050.25 L1391.03,1052.20 L1391.48,1054.14 L1391.93,1056.08 L1392.39,1058.03 L1392.84,1059.98 L1393.29,1061.93 L1393.74,1063.88 L1394.19,1065.83 L1394.64,1067.78 L1395.08,1069.73 L1395.53,1071.69 L1395.98,1073.64 L1396.43,1075.60 L1396.88,1077.56 L1397.33,1079.52 L1397.79,1081.48 L1398.24,1083.44 L1398.69,1085.40 L1399.15,1087.37 L1399.61,1089.33 L1400.07,1091.30 L1400.53,1093.27 L1400.99,1095.23 L1401.46,1097.21 L1401.93,1099.18 L1402.40,1101.15 L1402.55,1101.11 L1403.14,1099.08 L1403.72,1097.06 L1404.27,1095.05 L1404.80,1093.06 L1405.32,1091.07 L1405.81,1089.09 L1406.29,1087.12 L1406.75,1085.16 L1407.20,1083.21 L1407.63,1081.26 L1408.04,1079.32 L1408.44,1077.39 L1408.83,1075.46 L1409.20,1073.53 L1409.56,1071.61 L1409.90,1069.69 L1410.24,1067.77 L1410.56,1065.85 L1410.87,1063.94 L1411.17,1062.02 L1411.47,1060.10 L1411.75,1058.18 L1412.02,1056.26 L1412.29,1054.34 L1412.54,1052.41 L1412.79,1050.48 L1413.04,1048.54 L1413.28,1046.60 L1413.51,1044.65 L1413.74,1042.70 L1413.96,1040.73 L1414.18,1038.76 L1414.40,1036.78 L1414.61,1034.79 L1414.82,1032.79 L1415.04,1030.78 L1415.25,1028.76 L1415.45,1026.72 L1415.66,1024.67 L1415.87,1022.61 L1416.09,1020.54 L1416.30,1018.45 L1416.53,1016.35 L1416.77,1014.25 L1417.02,1012.15 L1417.29,1010.06 L1417.59,1007.97 L1417.91,1005.89 L1418.27,1003.82 L1418.65,1001.78 L1419.08,999.75 L1419.55,997.75 L1420.06,995.77 L1420.62,993.83 L1421.24,991.93 L1421.91,990.06 L1422.65,988.24 L1423.44,986.46 L1424.31,984.73 L1425.25,983.06 L1426.26,981.45 L1427.35,979.89 L1428.51,978.40 L1429.74,976.97 L1431.04,975.61 L1432.41,974.32 L1433.84,973.11 L1435.34,971.97 L1436.90,970.91 L1438.52,969.93 L1440.20,969.04 L1441.93,968.23 L1443.71,967.51 L1445.55,966.87 L1447.43,966.31 L1449.35,965.83 L1451.30,965.41 L1453.28,965.05 L1455.29,964.75 L1457.32,964.50 L1459.36,964.30 L1461.41,964.13 L1463.47,964.00 L1465.53,963.89 L1467.58,963.81 L1469.64,963.75 L1471.70,963.71 L1473.76,963.68 L1475.81,963.66 L1477.86,963.64 L1479.91,963.62 L1481.95,963.60 L1483.98,963.57 L1486.01,963.54 L1488.04,963.48 L1490.05,963.41 L1492.06,963.32 L1494.06,963.20 L1496.04,963.04 L1498.02,962.86 L1499.99,962.63 L1501.94,962.37 L1503.88,962.05 L1505.81,961.69 L1507.72,961.27 L1509.62,960.80 L1511.51,960.27 L1513.38,959.68 L1515.24,959.05 L1517.08,958.37 L1518.92,957.65 L1520.74,956.89 L1522.55,956.09 L1524.36,955.25 L1526.15,954.39 L1527.94,953.49 L1529.72,952.57 L1531.49,951.63 L1533.26,950.66 L1535.02,949.68 L1536.78,948.69 L1538.53,947.68 L1540.28,946.67 L1542.03,945.65 L1543.78,944.63 L1545.52,943.61 L1547.27,942.59 L1549.01,941.58 L1550.76,940.56 L1552.50,939.54 L1554.25,938.53 L1555.99,937.52 L1557.74,936.52 L1559.48,935.52 L1561.23,934.52 L1562.98,933.53 L1564.73,932.54 L1566.48,931.56 L1568.23,930.59 L1569.99,929.63 L1571.75,928.67 L1573.51,927.72 L1575.28,926.78 L1577.05,925.85 L1578.82,924.93 L1580.60,924.02 L1582.38,923.12 L1584.17,922.23 L1585.96,921.35 L1587.75,920.49 L1589.55,919.64 L1591.36,918.80 L1593.17,917.98 L1594.99,917.17 L1596.82,916.38 L1598.65,915.60 L1600.48,914.84 L1602.33,914.10 L1604.18,913.37 L1606.04,912.66 L1607.91,911.97 L1609.79,911.30 L1611.67,910.64 L1613.56,910.01 L1615.47,909.40 L1617.38,908.81 L1619.30,908.24 L1621.23,907.69 L1623.17,907.16 L1625.12,906.66 L1627.08,906.18 L1629.05,905.73 L1631.03,905.29 L1633.02,904.89" stroke="#a67ed2"/>
</g>
<g stroke="#000" stroke-width="5.2" fill="none">
<rect x="155.5" y="88" width="1479" height="1193"/>
<line x1="155.5" y1="1281" x2="155.5" y2="1303.0" /><line x1="331.6" y1="1281" x2="331.6" y2="1293.0" /><line x1="507.7" y1="1281" x2="507.7" y2="1303.0" /><line x1="683.8" y1="1281" x2="683.8" y2="1293.0" /><line x1="859.9" y1="1281" x2="859.9" y2="1303.0" /><line x1="1036.0" y1="1281" x2="1036.0" y2="1293.0" /><line x1="1212.1" y1="1281" x2="1212.1" y2="1303.0" /><line x1="1388.2" y1="1281" x2="1388.2" y2="1293.0" /><line x1="1564.3" y1="1281" x2="1564.3" y2="1303.0" />
</g>
<g stroke="#000" stroke-width="4">
<line x1="833" y1="352" x2="833" y2="392"/>
<line x1="839.8" y1="501" x2="839.8" y2="541"/>
<line x1="859.5" y1="616" x2="859.5" y2="657"/>
<line x1="829" y1="744" x2="829" y2="784"/>
<line x1="1403" y1="1103" x2="1403" y2="1142"/>
</g>
<g font-family="'Liberation Serif', serif" font-weight="bold" font-size="57" fill="#000">
<text x="749.2" y="439.2">146.1°C</text>
<text x="758.8" y="585.4">146.7°C</text>
<text x="737.9" y="706">149.6°C</text>
<text x="756.3" y="831.7">145.7°C</text>
<text x="1309.3" y="1187" textLength="189" lengthAdjust="spacingAndGlyphs">226.8°C</text>
</g>
<g stroke-width="9.6" stroke-linecap="round">
<line x1="170.5" y1="980" x2="285.5" y2="980" stroke="#000"/>
<line x1="170.5" y1="1044" x2="285.5" y2="1044" stroke="#ef4048"/>
<line x1="170.5" y1="1108" x2="285.5" y2="1108" stroke="#1b72de"/>
<line x1="170.5" y1="1172" x2="285.5" y2="1172" stroke="#48aa78"/>
<line x1="170.5" y1="1236" x2="285.5" y2="1236" stroke="#a67ed2"/>
</g>
<g font-family="'Liberation Serif', serif" font-weight="bold" font-size="50" fill="#000">
<text x="299" y="997">DGEBA/DDM</text>
<text x="299" y="1060" textLength="513" lengthAdjust="spacingAndGlyphs">DGEBA/DDM/DPBSi-2</text>
<text x="299" y="1123.5" textLength="513" lengthAdjust="spacingAndGlyphs">DGEBA/DDM/DPBSi-4</text>
<text x="299" y="1188" textLength="514" lengthAdjust="spacingAndGlyphs">DGEBA/DDM/DPBSi-6</text>
<text x="299" y="1252">DGEBA/DPBSi</text>
</g>
<g font-family="'Liberation Serif', serif" font-size="63" fill="#000" text-anchor="middle">
<text x="155.5" y="1370">50</text><text x="507.7" y="1370">100</text><text x="859.9" y="1370">150</text><text x="1212.1" y="1370">200</text><text x="1564.3" y="1370">250</text>
</g>
<text x="625.3" y="1439" font-family="'Liberation Serif', serif" font-weight="bold" font-size="71" textLength="543" lengthAdjust="spacingAndGlyphs">Temperature<tspan font-weight="normal">(</tspan>°C<tspan font-weight="normal">)</tspan></text>
<text transform="translate(101,968) rotate(-90)" font-family="'Liberation Serif', serif" font-weight="bold" font-size="72">Endothermic</text>
<line x1="83.8" y1="535" x2="83.8" y2="420" stroke="#000" stroke-width="9"/>
<polygon points="83.5,366 67.8,427 99.8,427" fill="#000"/>
</svg>
</body></html>
